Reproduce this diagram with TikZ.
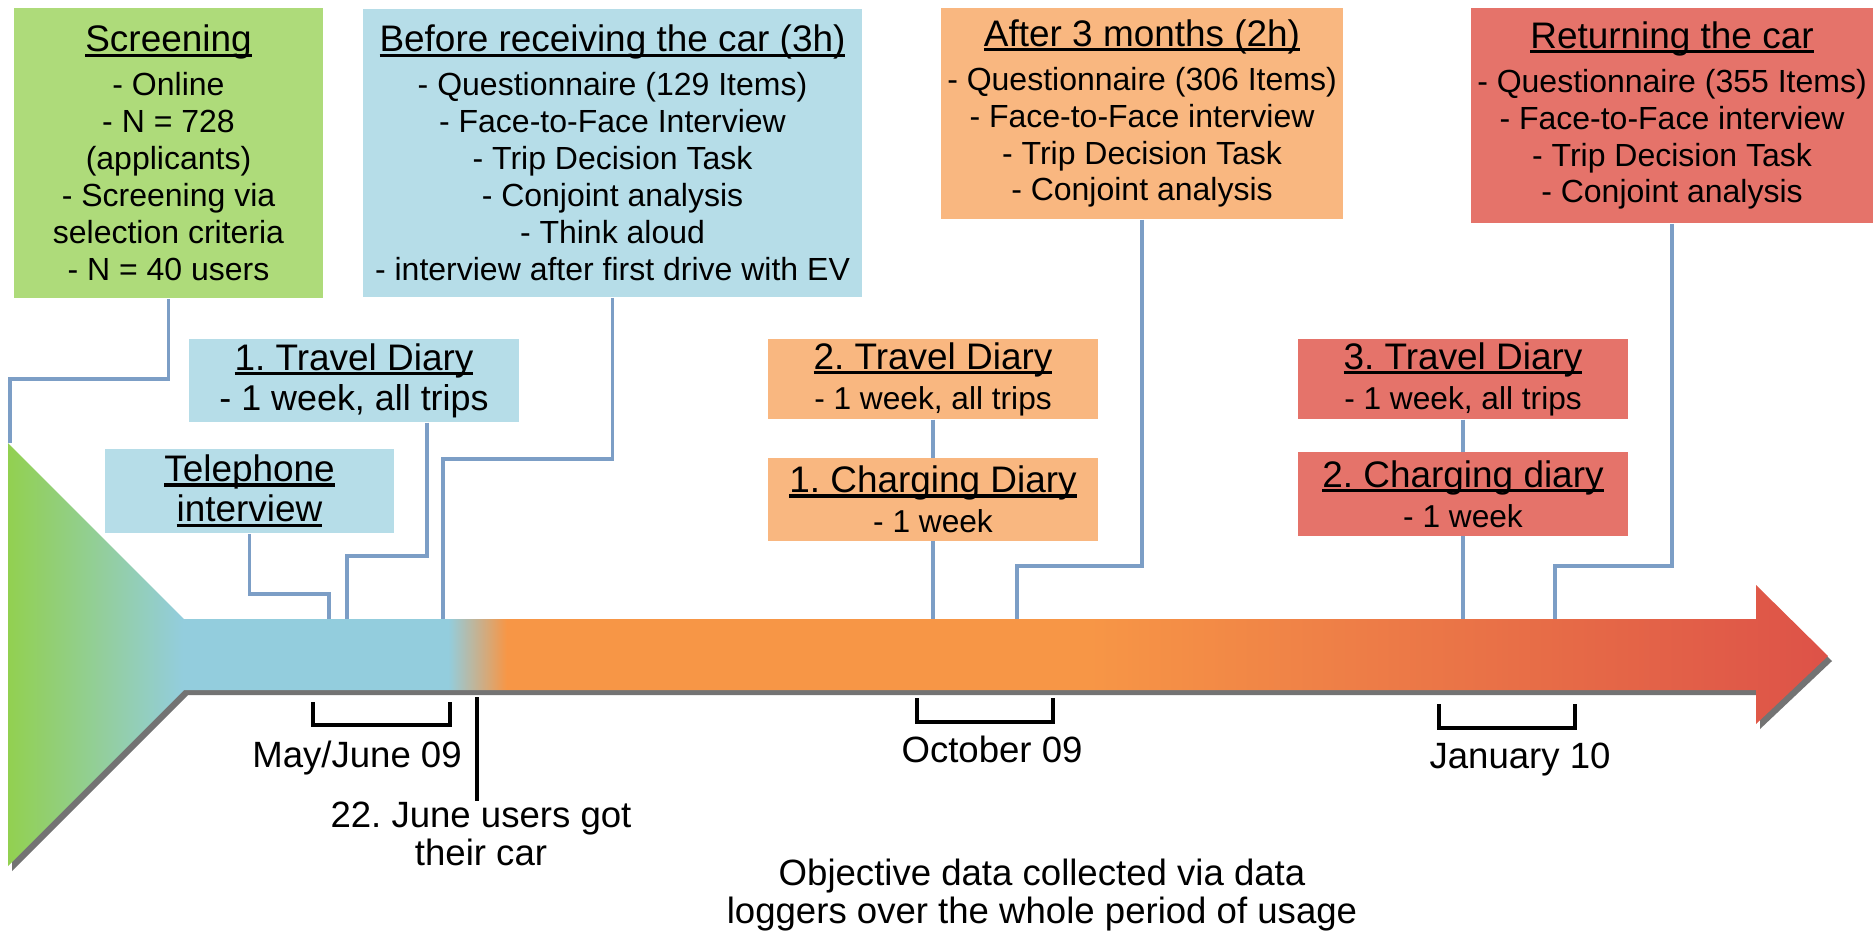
\documentclass[tikz,border=0pt]{standalone}
\usepackage{fontspec}
\setmainfont{Liberation Sans}
\usepackage{xcolor}
\usetikzlibrary{positioning, calc}
\frenchspacing

\definecolor{scrgreen}{RGB}{174,219,122}
\definecolor{preblue}{RGB}{182,221,232}
\definecolor{midorange}{RGB}{249,183,128}
\definecolor{endred}{RGB}{229,115,106}
\definecolor{linkblue}{RGB}{124,158,198}
\definecolor{tlgreen}{RGB}{146,208,80}
\definecolor{tlblue}{RGB}{147,205,221}
\definecolor{tlorange}{RGB}{247,150,70}
\definecolor{tlred}{RGB}{221,82,72}

\pgfdeclarehorizontalshading{timeline}{100bp}{color(0bp)=(tlgreen); color(25bp)=(tlgreen); color(29.8bp)=(tlblue); color(37.1bp)=(tlblue); color(38.7bp)=(tlorange); color(54.7bp)=(tlorange); color(75bp)=(tlred); color(100bp)=(tlred)}

\newcommand{\hd}[1]{{\fontsize{10.5}{12}\selectfont\setbox0\hbox{#1}\rlap{\rule[-1.5pt]{\wd0}{1pt}}\box0}}

\begin{document}
\begin{tikzpicture}[x=0.01cm, y=-0.01cm,
    bigbox/.style={fill=#1, inner sep=0pt, align=center, font=\fontsize{9.1}{10.5}\selectfont},
    smallbox/.style={fill=#1, inner sep=0pt, align=center, minimum width=3.3cm, font=\fontsize{9}{11.4}\selectfont},
    link/.style={draw=linkblue, line width=1.1pt},
    lbl/.style={font=\fontsize{10.4}{11}\selectfont, align=center, inner sep=0pt}]

    \fill[white] (0,0) rectangle (1873,932);
    \useasboundingbox (0,0) rectangle (1873,932);

    \node (scr) [bigbox=scrgreen, minimum width=3.09cm, minimum height=2.9cm] at (168.5,153) {\hd{Screening}\\[2pt] - Online\\ - N = 728\\ (applicants)\\ - Screening via\\ selection criteria\\ - N = 40 users};
    \node (bef) [bigbox=preblue, minimum width=4.99cm, minimum height=2.88cm] at (612.5,153) {\hd{Before receiving the car (3h)}\\[2pt] - Questionnaire (129 Items)\\ - Face-to-Face Interview\\ - Trip Decision Task\\ - Conjoint analysis\\ - Think aloud\\ - interview after first drive with EV};
    \node (aft) [bigbox=midorange, minimum width=4.02cm, minimum height=2.11cm] at (1142,113.5) {\hd{After 3 months (2h)}\\[2pt] - Questionnaire (306 Items)\\ - Face-to-Face interview\\ - Trip Decision Task\\ - Conjoint analysis};
    \node (ret) [bigbox=endred, minimum width=4.02cm, minimum height=2.15cm] at (1672,115.5) {\hd{Returning the car}\\[2pt] - Questionnaire (355 Items)\\ - Face-to-Face interview\\ - Trip Decision Task\\ - Conjoint analysis};

    \node (td1) [smallbox=preblue, minimum height=0.83cm, font=\fontsize{10.2}{11.4}\selectfont] at (354,380.5) {\hd{1. Travel Diary}\\ - 1 week, all trips};
    \node (tel) [smallbox=preblue, minimum width=2.89cm, minimum height=0.84cm] at (249.5,491) {\hd{Telephone}\\ \hd{interview}};
    \node (td2) [smallbox=midorange, minimum height=0.8cm] at (933,379) {\hd{2. Travel Diary}\\ - 1 week, all trips};
    \node (ch1) [smallbox=midorange, minimum height=0.82cm, below=0.38cm of td2] {\hd{1. Charging Diary}\\ - 1 week};
    \node (td3) [smallbox=endred, minimum height=0.8cm] at (1463,379) {\hd{3. Travel Diary}\\ - 1 week, all trips};
    \node (ch2) [smallbox=endred, minimum height=0.83cm, below=0.32cm of td3] {\hd{2. Charging diary}\\ - 1 week};

    \coordinate (ax) at (0,619);
    \coordinate (wt) at (10,443);
    \coordinate (c1) at (329,619);
    \coordinate (c2) at (347,619);
    \coordinate (c3) at (443,619);
    \coordinate (c4) at (1017,619);
    \coordinate (c5) at (1555,619);

    \draw[link] (scr.south) -- ++(0,80) -| (wt);
    \draw[link] (tel.south) -- ++(0,60) -| (c1);
    \draw[link] ($(td1.south)+(73,0)$) -- ++(0,133) -| (c2);
    \draw[link] (bef.south) -- ++(0,161) -| (c3);
    \draw[link] (td2.south) -- (ch1.north);
    \draw[link] (ch1.south) -- (ch1.south |- ax);
    \draw[link] (aft.south) -- ++(0,346) -| (c4);
    \draw[link] (td3.south) -- (ch2.north);
    \draw[link] (ch2.south) -- (ch2.south |- ax);
    \draw[link] (ret.south) -- ++(0,342) -| (c5);

    \fill[black!55, shift={(4,5)}] (8,443) -- (184,619) -- (1756,619) -- (1756,585) -- (1828,656) -- (1756,724) -- (1756,690) -- (184,690) -- (8,866) -- cycle;
    \shade[shading=timeline] (8,443) -- (184,619) -- (1756,619) -- (1756,585) -- (1828,656) -- (1756,724) -- (1756,690) -- (184,690) -- (8,866) -- cycle;

    \draw[line width=1pt] (313,702) -- (313,725) -- (450,725) -- (450,702);
    \draw[line width=1pt] (917,698) -- (917,722) -- (1053,722) -- (1053,698);
    \draw[line width=1pt] (1439,704) -- (1439,728) -- (1575,728) -- (1575,704);

    \node (may) [lbl, anchor=base] at (357,767) {May/June 09};
    \node (oct) [lbl, anchor=base] at (992,762) {October 09};
    \node (jan) [lbl, anchor=base] at (1520,768) {January 10};
    \node (jun) [lbl, anchor=north] at (481,801) {22. June users got\\their car};
    \coordinate (got) at (477,697);
    \draw[line width=1pt] (got) -- (got |- jun.north);
    \node (obj) [lbl, anchor=north] at (1042,858) {Objective data collected via data\\loggers over the whole period of usage};
\end{tikzpicture}
\end{document}
